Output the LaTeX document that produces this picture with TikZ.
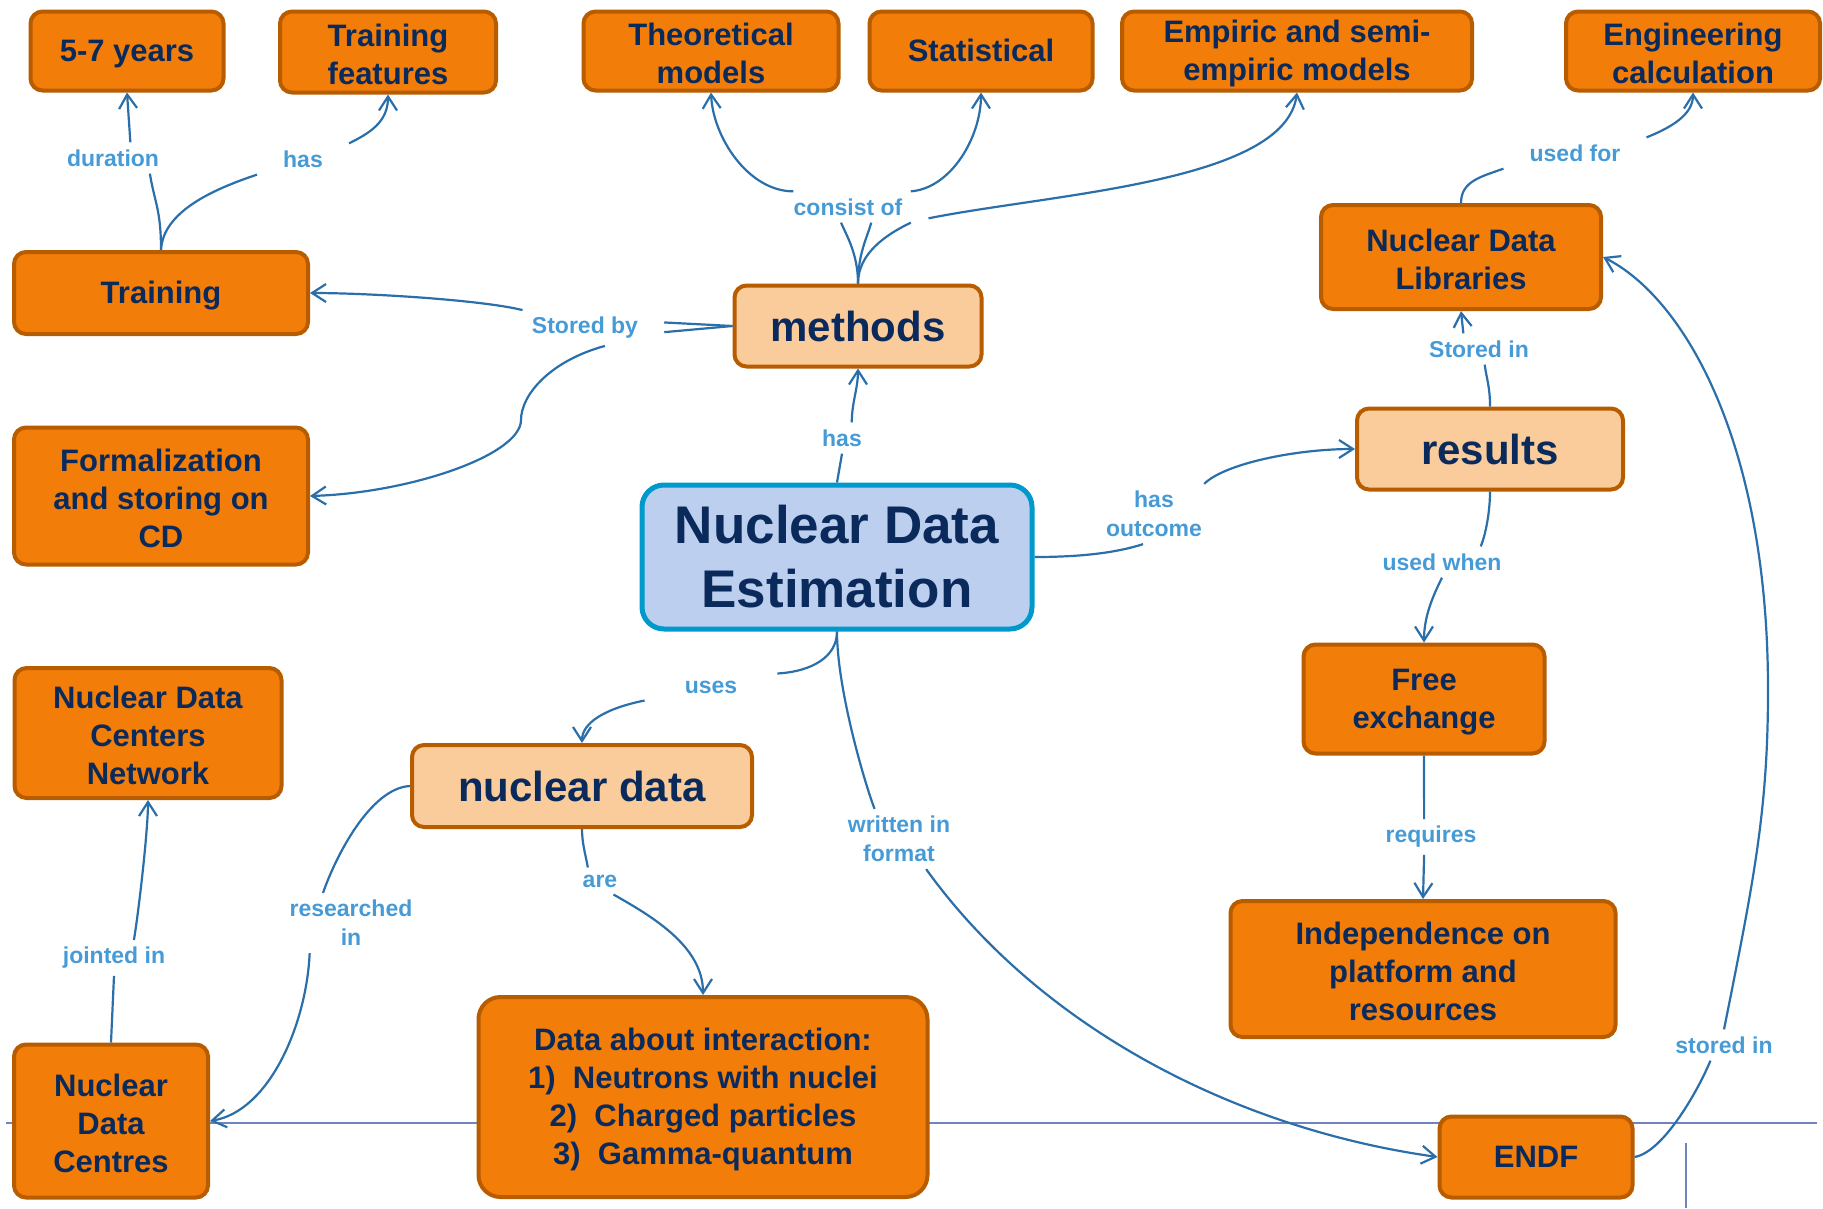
\documentclass[tikz,border=0pt]{standalone}
\usepackage{fontspec}
\setmainfont{Liberation Sans}
\usetikzlibrary{arrows.meta}
\definecolor{boxfill}{HTML}{F27D09}
\definecolor{boxline}{HTML}{B85C00}
\definecolor{keyfill}{HTML}{FACC9C}
\definecolor{mainfill}{HTML}{BCCFEE}
\definecolor{mainline}{HTML}{0099CC}
\definecolor{navy}{HTML}{0B2A5C}
\definecolor{linkblue}{HTML}{469BD7}
\definecolor{connblue}{HTML}{2A6EAA}
\definecolor{slate}{HTML}{7085C0}
\newcommand\boxstrut{\rule[-0.21em]{0pt}{1.11em}}

\begin{document}
\begin{tikzpicture}[x=1pt,y=-1pt,>={Straight Barb[length=14pt,width=18pt]},
  box/.style={draw=boxline,fill=boxfill,line width=4pt,rounded corners=12pt,align=center,
    text=navy,inner sep=0pt,font=\fontsize{31}{38}\selectfont\bfseries},
  one/.style={box,execute at begin node=\boxstrut,execute at end node=\boxstrut},
  key/.style={box,fill=keyfill,font=\fontsize{42}{48}\selectfont\bfseries},
  link/.style={text=linkblue,align=center,inner xsep=26pt,inner ysep=7pt,
    font=\fontsize{23}{29}\selectfont\bfseries},
  conn/.style={draw=connblue,line width=2.2pt}]
  \useasboundingbox (0,0) rectangle (1823,1208);
  \draw[slate,line width=2pt] (6,1123) -- (1817,1123);
  \draw[slate,line width=2pt] (1686,1143) -- (1686,1208);

  \node[one,minimum width=193,minimum height=79] (years) at (127,51) {5-7 years};
  \node[box,minimum width=216,minimum height=81] (feat) at (388,52) {\boxstrut Training\\features};
  \node[box,minimum width=255,minimum height=79] (theor) at (711,51) {\boxstrut Theoretical\\models};
  \node[one,minimum width=223,minimum height=79] (stat) at (981,51) {Statistical};
  \node[box,minimum width=350,minimum height=79] (empir) at (1297,51) {\boxstrut Empiric and semi-\\empiric models};
  \node[box,minimum width=254,minimum height=79] (engin) at (1693,51) {\boxstrut Engineering\\calculation};
  \node[one,minimum width=294,minimum height=82] (train) at (161,293) {Training};
  \node[key,minimum width=247,minimum height=81] (meth) at (858,326) {methods};
  \node[box,minimum width=294,minimum height=137] (form) at (161,496) {\boxstrut Formalization\\and storing on\\CD};
  \node[box,minimum width=280,minimum height=104] (ndl) at (1461,257) {\boxstrut Nuclear Data\\Libraries};
  \node[key,minimum width=266,minimum height=81] (res) at (1490,449) {results};
  \node[box,draw=mainline,fill=mainfill,line width=5pt,rounded corners=22pt,
    minimum width=390,minimum height=144,font=\fontsize{53}{64}\selectfont\bfseries] (nde) at (837,557) {Nuclear Data\\Estimation};
  \node[box,minimum width=267,minimum height=130] (ndcn) at (148,733) {\boxstrut Nuclear Data\\Centers\\Network};
  \node[key,minimum width=340,minimum height=82] (nd) at (582,786) {nuclear data};
  \node[box,minimum width=241,minimum height=109] (free) at (1424,699) {\boxstrut Free\\exchange};
  \node[box,minimum width=385,minimum height=136] (indep) at (1423,969) {\boxstrut Independence on\\platform and\\resources};
  \node[box,minimum width=194,minimum height=153] (ndc) at (111,1121) {\boxstrut Nuclear\\Data\\Centres};
  \node[box,minimum width=449,minimum height=200,rounded corners=22pt] (inter) at (703,1097)
    {\boxstrut Data about interaction:\\1)~ Neutrons with nuclei\\2)~ Charged particles\\3)~ Gamma-quantum};
  \node[one,minimum width=193,minimum height=81] (endf) at (1536,1157) {ENDF};

  \node[link] (lDur) at (113,158) {duration};
  \node[link] (lHas1) at (303,159) {has};
  \node[link] (lCons) at (848,207) {consist of};
  \node[link] (lStor) at (585,328) {Stored by};
  \node[link] (lHas2) at (842,438) {has};
  \node[link] (lOut) at (1154,514) {has\\outcome};
  \node[link] (lUsedFor) at (1575,153) {used for};
  \node[link] (lStoredIn) at (1479,349) {Stored in};
  \node[link] (lWhen) at (1442,562) {used when};
  \node[link] (lReq) at (1431,837) {requires};
  \node[link,inner xsep=40pt] (lUses) at (711,687) {uses};
  \node[link] (lFormat) at (899,839) {written in\\format};
  \node[link] (lAre) at (600,881) {are};
  \node[link] (lRes) at (351,923) {researched\\in};
  \node[link] (lJoint) at (114,958) {jointed in};
  \node[link] (lStored2) at (1724,1045) {stored in};

  \draw[conn] (train.north) .. controls +(0,-40) and +(5,30) .. (lDur.-23);
  \draw[conn,->] (lDur.42) -- (years.south);
  \draw[conn] (train.north) .. controls +(2,-37) and +(-48,16) .. (lHas1.south west);
  \draw[conn,->] (lHas1.north east) .. controls +(20,-10) and +(0,28) .. (feat.south);

  \draw[conn] (meth.north) .. controls +(0,-30) and +(5,12) .. (lCons.-114);
  \draw[conn] (meth.north) .. controls +(0,-30) and +(-4,15) .. (lCons.-34);
  \draw[conn] (meth.north) .. controls +(0,-30) and +(-25,12) .. (lCons.-14);
  \draw[conn,->] (lCons.164) .. controls +(-45,0) and +(2,45) .. (theor.south);
  \draw[conn,->] (lCons.14) .. controls +(40,-3) and +(0,45) .. (stat.south);
  \draw[conn,->] (lCons.-8) .. controls +(125,-25) and +(-12,90) .. (empir.south);

  \draw[conn] (meth.west) -- (lStor.4);
  \draw[conn] (meth.west) -- (lStor.-3);
  \draw[conn,->] (lStor.164) .. controls +(-40,-10) and +(60,0) .. (train.east);
  \draw[conn,->] (lStor.-42) .. controls +(-55,15) and +(0,-25) .. (521,420)
    .. controls +(0,35) and +(100,-3) .. (form.east);

  \draw[conn] (nde.north) -- (lHas2.south);
  \draw[conn,->] (lHas2.58) .. controls +(0,-20) and +(0,20) .. (meth.south);

  \draw[conn] (nde.east) .. controls +(50,0) and +(-25,8) .. (lOut.-110);
  \draw[conn,->] (lOut.31) .. controls +(20,-20) and +(-60,0) .. (res.west);

  \draw[conn] (res.north) .. controls +(0,-20) and +(2,15) .. (lStoredIn.-70);
  \draw[conn,->] (lStoredIn.135) -- (ndl.south);

  \draw[conn] (ndl.north) .. controls +(0,-22) and +(-22,8) .. (lUsedFor.south west);
  \draw[conn,->] (lUsedFor.north east) .. controls +(25,-10) and +(0,22) .. (engin.south);

  \draw[conn] (res.south) .. controls +(0,20) and +(5,-12) .. (lWhen.22);
  \draw[conn,->] (lWhen.south) .. controls +(-10,20) and +(0,-25) .. (free.north);

  \draw[conn] (free.south) -- (lReq.111);
  \draw[conn,->] (lReq.-111) -- (indep.north);

  \draw[conn] (nde.south) .. controls +(0,25) and +(35,-2) .. (lUses.north east);
  \draw[conn,->] (lUses.south west) .. controls +(-40,8) and +(0,-20) .. (nd.north);

  \draw[conn] (nde.south) .. controls +(0,60) and +(-8,-20) .. (lFormat.129);
  \draw[conn,->] (lFormat.-48) .. controls +(115,160) and +(-200,-28) .. (endf.west);

  \draw[conn] (nd.south) .. controls +(0,15) and +(-2,-12) .. (lAre.132);
  \draw[conn,->] (lAre.-45) .. controls +(35,20) and +(0,-50) .. (inter.north);

  \draw[conn] (nd.west) .. controls +(-40,2) and +(12,-35) .. (lRes.133);
  \draw[conn,->] (lRes.-144) .. controls +(-3,70) and +(60,-10) .. (ndc.east);

  \draw[conn] (ndc.north) -- (lJoint.south);
  \draw[conn,->] (lJoint.42) .. controls +(5,-30) and +(0,30) .. (ndcn.south);

  \draw[conn] (endf.east) .. controls +(30,-5) and +(-10,25) .. (lStored2.-131);
  \draw[conn,->] (lStored2.north) .. controls +(30,-150) and +(0,120) .. (1768,690)
    .. controls +(0,-250) and +(80,40) .. (ndl.east);
\end{tikzpicture}
\end{document}
